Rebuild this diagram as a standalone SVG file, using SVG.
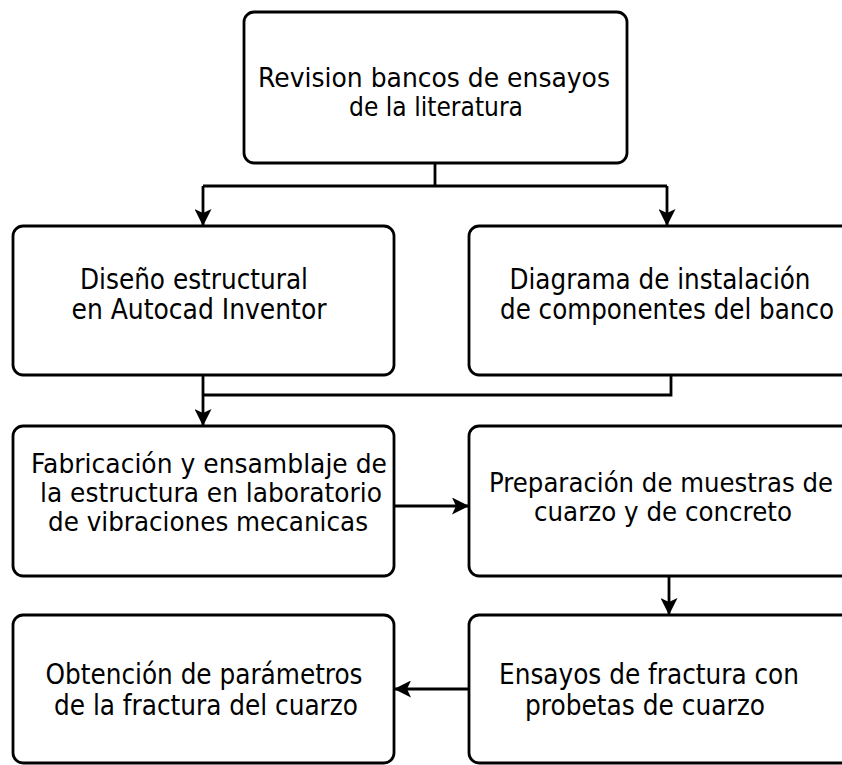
<svg xmlns="http://www.w3.org/2000/svg" width="842" height="765" viewBox="0 0 842 765">
<defs>
<style>
.box{fill:#fff;stroke:#000;stroke-width:2.8}
.v{font-family:"DejaVu Sans","Verdana",sans-serif;font-size:27px;fill:#000;text-anchor:middle}
.t{font-family:"DejaVu Sans Condensed","DejaVu Sans",sans-serif;font-size:28.5px;fill:#000;text-anchor:middle}
.c{fill:none;stroke:#000;stroke-width:2.8}
</style>
<marker id="ah" markerUnits="userSpaceOnUse" viewBox="0 0 17 17" refX="16" refY="8.5" markerWidth="17" markerHeight="17" orient="auto">
<path d="M0,0 L17,8.5 L0,17 L4,8.5 z" fill="#000"/>
</marker>
</defs>
<rect width="842" height="765" fill="#fff"/>
<g id="connectors">
<path class="c" d="M435,163 V186 M203,186 H667"/>
<path class="c" d="M203,186 V225" marker-end="url(#ah)"/>
<path class="c" d="M667,186 V225" marker-end="url(#ah)"/>
<path class="c" d="M671,375 V395 H203"/>
<path class="c" d="M203,375 V425" marker-end="url(#ah)"/>
<path class="c" d="M394,506 H468" marker-end="url(#ah)"/>
<path class="c" d="M669,576 V614" marker-end="url(#ah)"/>
<path class="c" d="M469,689 H395" marker-end="url(#ah)"/>
</g>
<g id="n1">
<rect class="box" x="244" y="12" width="383" height="151" rx="10"/>
<text class="v" x="434" y="87" textLength="352" lengthAdjust="spacingAndGlyphs">Revision bancos de ensayos</text>
<text class="v" x="436" y="116" textLength="174" lengthAdjust="spacingAndGlyphs">de la literatura</text>
</g>
<g id="n2">
<rect class="box" x="13" y="226" width="381" height="149" rx="10"/>
<text class="t" x="194" y="289" textLength="228" lengthAdjust="spacingAndGlyphs">Diseño estructural</text>
<text class="t" x="199" y="319" textLength="255" lengthAdjust="spacingAndGlyphs">en Autocad Inventor</text>
</g>
<g id="n3">
<rect class="box" x="469" y="226" width="383" height="149" rx="10"/>
<text class="t" x="660" y="289" textLength="301" lengthAdjust="spacingAndGlyphs">Diagrama de instalación</text>
<text class="t" x="667" y="319" textLength="334" lengthAdjust="spacingAndGlyphs">de componentes del banco</text>
</g>
<g id="n4">
<rect class="box" x="13" y="426" width="381" height="150" rx="10"/>
<text class="v" x="209" y="473" textLength="356" lengthAdjust="spacingAndGlyphs">Fabricación y ensamblaje de</text>
<text class="v" x="211" y="502" textLength="342" lengthAdjust="spacingAndGlyphs">la estructura en laboratorio</text>
<text class="v" x="208" y="531" textLength="320" lengthAdjust="spacingAndGlyphs">de vibraciones mecanicas</text>
</g>
<g id="n5">
<rect class="box" x="469" y="426" width="383" height="150" rx="10"/>
<text class="v" x="661" y="492" textLength="344" lengthAdjust="spacingAndGlyphs">Preparación de muestras de</text>
<text class="v" x="663" y="521" textLength="258" lengthAdjust="spacingAndGlyphs">cuarzo y de concreto</text>
</g>
<g id="n6">
<rect class="box" x="469" y="615" width="383" height="148" rx="10"/>
<text class="t" x="649" y="684" textLength="300" lengthAdjust="spacingAndGlyphs">Ensayos de fractura con</text>
<text class="t" x="645" y="715" textLength="240" lengthAdjust="spacingAndGlyphs">probetas de cuarzo</text>
</g>
<g id="n7">
<rect class="box" x="13" y="615" width="381" height="148" rx="10"/>
<text class="t" x="204" y="684" textLength="317" lengthAdjust="spacingAndGlyphs">Obtención de parámetros</text>
<text class="t" x="206" y="715" textLength="304" lengthAdjust="spacingAndGlyphs">de la fractura del cuarzo</text>
</g>
</svg>
